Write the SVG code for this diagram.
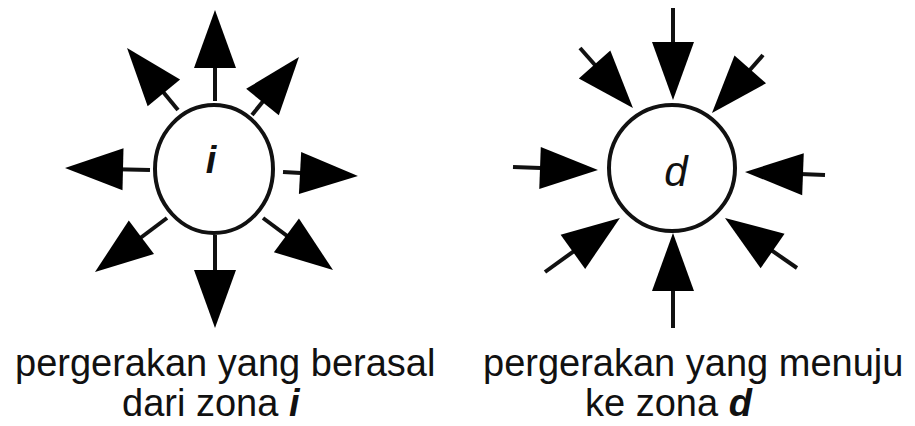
<svg xmlns="http://www.w3.org/2000/svg" width="915" height="426" viewBox="0 0 915 426">
<style>
.shaft{stroke:#111;stroke-width:4;fill:none;marker-end:url(#ah)}
.zone{fill:#fff;stroke:#111;stroke-width:4}
.lbl{font-family:"Liberation Sans",Arial,sans-serif;font-size:38px;fill:#111}
.zl{font-family:"Liberation Sans",Arial,sans-serif;font-style:italic;fill:#111}
</style>
<defs>
<marker id="ah" markerUnits="userSpaceOnUse" markerWidth="60" markerHeight="42" refX="28" refY="21" orient="auto" overflow="visible">
<path d="M0,0 L58,21 L0,42 Z" fill="#000"/>
</marker>
</defs>
<rect width="915" height="426" fill="#fff"/>
<g id="connectors">
<line class="shaft" x1="215" y1="101" x2="215" y2="40"/>
<line class="shaft" x1="215" y1="235" x2="215" y2="298"/>
<line class="shaft" x1="150" y1="170" x2="95" y2="168.7"/>
<line class="shaft" x1="283" y1="172" x2="328" y2="174.4"/>
<line class="shaft" x1="178" y1="110" x2="146.1" y2="71.2"/>
<line class="shaft" x1="252" y1="115" x2="280.1" y2="80.3"/>
<line class="shaft" x1="167" y1="218" x2="119" y2="254"/>
<line class="shaft" x1="263" y1="218" x2="308.9" y2="252.1"/>
<line class="shaft" x1="673" y1="8" x2="673" y2="70"/>
<line class="shaft" x1="673" y1="328" x2="673" y2="263"/>
<line class="shaft" x1="513" y1="167" x2="568" y2="169"/>
<line class="shaft" x1="825" y1="175" x2="775" y2="173.1"/>
<line class="shaft" x1="580" y1="48" x2="613.1" y2="85.5"/>
<line class="shaft" x1="763" y1="55" x2="731.8" y2="90.5"/>
<line class="shaft" x1="545" y1="272" x2="595.6" y2="235.5"/>
<line class="shaft" x1="797" y1="268" x2="749.6" y2="235.1"/>
</g>
<g id="zone-i">
<ellipse class="zone" cx="214" cy="169" rx="59" ry="64"/>
<text class="zl" x="211" y="173" text-anchor="middle" font-size="38" font-weight="bold">i</text>
</g>
<g id="zone-d">
<circle class="zone" cx="672" cy="168" r="63"/>
<text class="zl" x="676" y="186" text-anchor="middle" font-size="42">d</text>
</g>
<g id="caption-i">
<text class="lbl" x="15" y="376">pergerakan yang berasal</text>
<text class="lbl" x="122" y="416">dari zona <tspan font-style="italic" font-weight="bold">i</tspan></text>
</g>
<g id="caption-d">
<text class="lbl" x="483" y="376">pergerakan yang menuju</text>
<text class="lbl" x="585" y="416">ke zona <tspan font-style="italic" font-weight="bold">d</tspan></text>
</g>
</svg>
